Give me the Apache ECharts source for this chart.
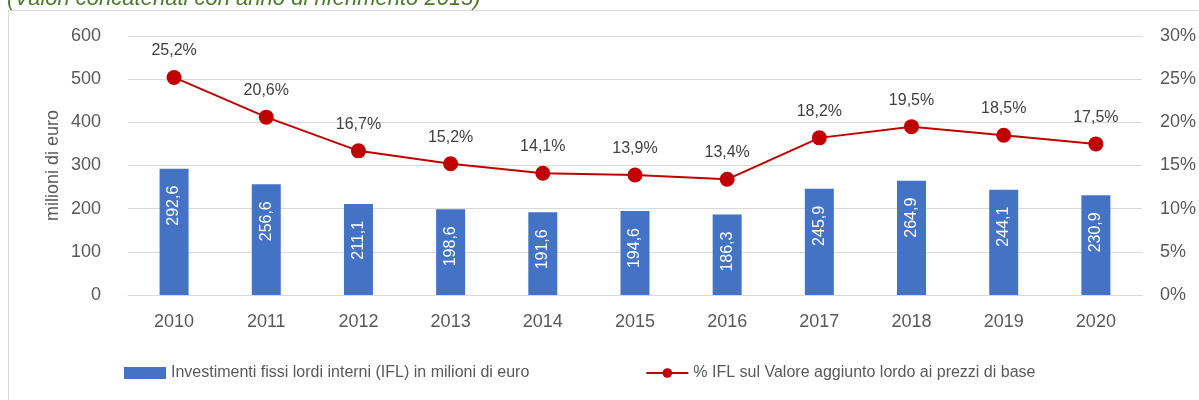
<!DOCTYPE html>
<html>
<head>
<meta charset="utf-8">
<script src="https://cdn.jsdelivr.net/npm/echarts@6/dist/echarts.min.js"></script>
<style>
  html, body { margin: 0; padding: 0; background: #fff; }
  #chart { width: 1199px; height: 400px; }
</style>
</head>
<body>
<div id="chart"></div>
<script>
// dati
var anni = ['2010', '2011', '2012', '2013', '2014', '2015', '2016', '2017', '2018', '2019', '2020'];
var investimenti = [292.6, 256.6, 211.1, 198.6, 191.6, 194.6, 186.3, 245.9, 264.9, 244.1, 230.9];
var quotaIFL = [25.2, 20.6, 16.7, 15.2, 14.1, 13.9, 13.4, 18.2, 19.5, 18.5, 17.5];
var nomeBarre = 'Investimenti fissi lordi interni (IFL) in milioni di euro';
var nomeLinea = '% IFL sul Valore aggiunto lordo ai prezzi di base';

var virgola = function (v) {
    return v.toFixed(1).replace('.', ',');
};

var grigio = '#595959';
var font = 'Liberation Sans, Arial, sans-serif';

var chart = echarts.init(document.getElementById('chart'));
var option = {
    animation: false,
    textStyle: { fontFamily: font },
    graphic: [
        {
            type: 'rect',
            shape: { x: 8.5, y: 10.5, width: 1300, height: 500 },
            style: { fill: 'none', stroke: '#d9d9d9', lineWidth: 1 },
            silent: true
        },
        {
            // sottotitolo tagliato in alto, come nell'originale
            type: 'text',
            x: 7,
            y: -12,
            style: {
                text: '(Valori concatenati con anno di riferimento 2015)',
                fill: '#4a7a2a',
                font: 'italic 22px ' + font
            }
        }
    ],
    grid: { left: 128, right: 56, top: 36, bottom: 105 },
    legend: {
        left: 119,
        top: 360,
        itemGap: 116,
        itemWidth: 42,
        itemHeight: 12,
        textStyle: { color: grigio, fontSize: 16, fontFamily: font },
        data: [
            { name: nomeBarre, icon: 'rect' },
            { name: nomeLinea }
        ]
    },
    xAxis: {
        type: 'category',
        data: anni,
        axisTick: { show: false },
        axisLine: { lineStyle: { color: '#d9d9d9', width: 1 } },
        axisLabel: { color: grigio, fontSize: 18, margin: 18 }
    },
    yAxis: [
        {
            type: 'value',
            min: 0, max: 600, interval: 100,
            name: 'milioni di euro',
            nameLocation: 'middle',
            nameGap: 66,
            nameMoveOverlap: false,
            nameTextStyle: { color: grigio, fontSize: 18 },
            axisLabel: { color: grigio, fontSize: 18, margin: 27 },
            splitLine: { lineStyle: { color: '#d9d9d9' } }
        },
        {
            type: 'value',
            min: 0, max: 30, interval: 5,
            axisLabel: { color: grigio, fontSize: 18, margin: 18, formatter: '{value}%' },
            splitLine: { show: false }
        }
    ],
    series: [
        {
            name: nomeBarre,
            type: 'bar',
            data: investimenti,
            barWidth: 29,
            itemStyle: { color: '#4472c4' },
            label: {
                show: true,
                position: 'insideTop',
                distance: 17,
                rotate: 90,
                align: 'right',
                verticalAlign: 'middle',
                color: '#fff',
                fontSize: 16,
                formatter: function (p) { return virgola(p.value); }
            }
        },
        {
            name: nomeLinea,
            type: 'line',
            yAxisIndex: 1,
            data: quotaIFL,
            symbol: 'circle',
            symbolSize: 15,
            lineStyle: { color: '#c00000', width: 2 },
            itemStyle: { color: '#c00000' },
            label: {
                show: true,
                position: 'top',
                distance: 11,
                color: '#404040',
                fontSize: 16,
                formatter: function (p) { return virgola(p.value) + '%'; }
            }
        }
    ]
};
chart.setOption(option);
</script>
</body>
</html>
